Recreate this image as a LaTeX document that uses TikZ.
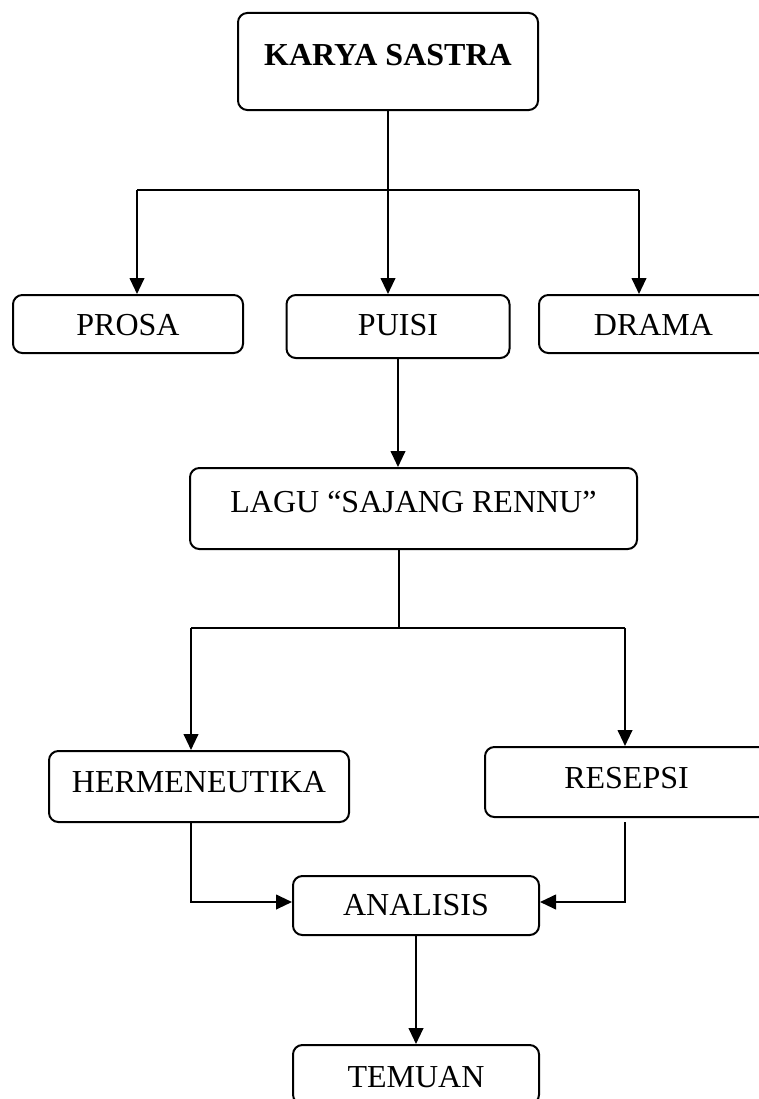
\documentclass[tikz,border=0pt]{standalone}
\usepackage{fontspec}
\setmainfont{Liberation Serif}
\usetikzlibrary{arrows.meta}

\tikzset{every picture/.style={line width=1.5pt}}

\begin{document}
\begin{tikzpicture}[x=0.75pt,y=0.75pt,yscale=-1,xscale=1,
  box/.style={draw, rounded corners=7pt, inner sep=0pt, align=center, font=\fontsize{24pt}{28pt}\selectfont},
  arr/.style={-{Triangle[length=12pt,width=11pt]}}]
%set diagram to the page: 759 x 1099
\useasboundingbox (0,0) rectangle (759,1099);
\clip (0,0) rectangle (759,1099);
%Shape: Rounded Rect [id:karya]
\node[box, minimum width=225pt, text height=39pt, text depth=33.75pt] (karya) at (388,61.5) {\bfseries KARYA SASTRA};
%Shape: Rounded Rect [id:prosa]
\node[box, minimum width=172.5pt, text height=30pt, text depth=13.5pt] (prosa) at (128,324) {PROSA};
%Shape: Rounded Rect [id:puisi]
\node[box, minimum width=167.25pt, text height=30pt, text depth=17.25pt] (puisi) at (398,326.5) {PUISI};
%Shape: Rounded Rect [id:drama]
\node[box, minimum width=171.75pt, text height=30pt, text depth=13.5pt] (drama) at (653.5,324) {DRAMA};
%Shape: Rounded Rect [id:lagu]
\node[box, minimum width=335.25pt, text height=33pt, text depth=27.75pt] (lagu) at (413.5,508.5) {LAGU “SAJANG RENNU”};
%Shape: Rounded Rect [id:herm]
\node[box, minimum width=225pt, text height=30.75pt, text depth=22.5pt] (herm) at (199,786.5) {HERMENEUTIKA};
%Shape: Rounded Rect [id:resepsi]
\node[box, minimum width=212.25pt, text height=30.75pt, text depth=21.75pt] (resepsi) at (626.5,782) {RESEPSI};
%Shape: Rounded Rect [id:analisis]
\node[box, minimum width=184.5pt, text height=29.25pt, text depth=15pt] (analisis) at (416,905.5) {ANALISIS};
%Shape: Rounded Rect [id:temuan]
\node[box, minimum width=184.5pt, text height=31.5pt, text depth=12.75pt] (temuan) at (416,1074.5) {TEMUAN};

%Straight Lines: karya to the three kinds
\coordinate (fl) at (137,190);
\coordinate (fr) at (639,190);
\draw (fl) -- (fr);
\draw[arr] (fl) -- (fl |- prosa.north);
\draw[arr] (karya.south) -- (karya.south |- puisi.north);
\draw[arr] (fr) -- (fr |- drama.north);
%Straight Lines: puisi to lagu
\draw[arr] (puisi.south) -- (puisi.south |- lagu.north);
%Straight Lines: lagu to the two methods
\coordinate (lj) at (399,628);
\coordinate (ll) at (191,628);
\coordinate (lr) at (625,628);
\draw (lj |- lagu.south) -- (lj);
\draw (ll) -- (lr);
\draw[arr] (ll) -- (ll |- herm.north);
\draw[arr] (lr) -- (lr |- resepsi.north);
%Straight Lines: methods to analisis
\coordinate (hb) at (191,902);
\coordinate (rt) at (625,822);
\coordinate (rb) at (625,902);
\draw[arr] (hb |- herm.south) -- (hb) -- (hb -| analisis.west);
\draw[arr] (rt) -- (rb) -- (rb -| analisis.east);
%Straight Lines: analisis to temuan
\draw[arr] (analisis.south) -- (temuan.north);
\end{tikzpicture}
\end{document}
